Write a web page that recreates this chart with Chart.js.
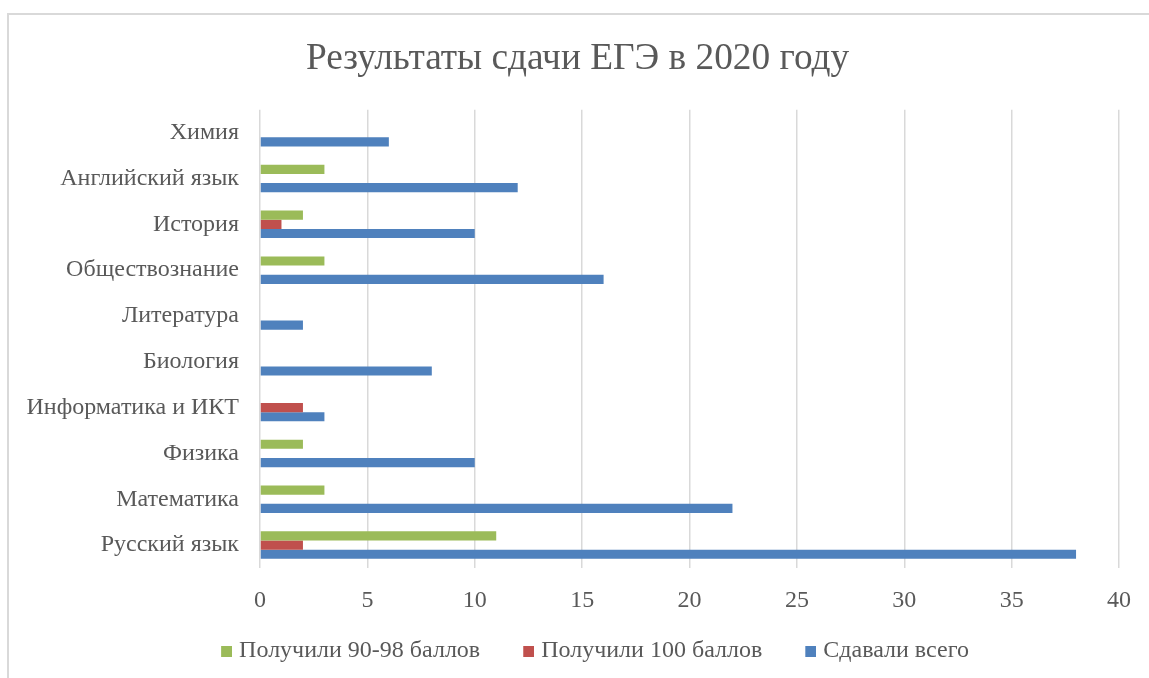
<!DOCTYPE html>
<html lang="ru">
<head>
<meta charset="utf-8">
<title>Результаты сдачи ЕГЭ в 2020 году</title>
<script src="https://cdn.jsdelivr.net/npm/chart.js@4/dist/chart.umd.min.js"></script>
<style>
  html, body { margin: 0; padding: 0; background: #fff; overflow: hidden; }
  .frame {
    position: absolute; left: 7px; top: 13px; width: 1200px; height: 700px;
    border-top: 2px solid #d9d9d9; border-left: 2px solid #d9d9d9;
  }
  #chart { position: absolute; left: 0; top: 0; }
</style>
</head>
<body>
<div class="frame"></div>
<canvas id="chart" width="1149" height="678"></canvas>
<script>
  'use strict';

  /* Data (top to bottom as on the chart) */
  const categories = ['Химия', 'Английский язык', 'История', 'Обществознание', 'Литература',
    'Биология', 'Информатика и ИКТ', 'Физика', 'Математика', 'Русский язык'];
  const got90to98 = [0, 3, 2, 3, 0, 0, 0, 2, 3, 11];
  const got100 = [0, 0, 1, 0, 0, 0, 2, 0, 0, 2];
  const totalTaken = [6, 12, 10, 16, 2, 8, 3, 10, 22, 38];
  const xTicks = [0, 5, 10, 15, 20, 25, 30, 35, 40];

  const colors = ['#9bbb59', '#c0504d', '#4f81bd'];
  const textColor = '#595959';
  const serif = '"Liberation Serif", "Times New Roman", serif';

  /* legend marker: small square at the right of a wider blank image,
     so items get more room between them and the square sits near its text */
  function legendMark(color) {
    const c = document.createElement('canvas');
    c.width = 51;
    c.height = 11;
    const g = c.getContext('2d');
    g.fillStyle = color;
    g.fillRect(40, 0, 11, 11);
    return c;
  }
  const marks = colors.map(legendMark);

  const ctx = document.getElementById('chart').getContext('2d');

  // eslint-disable-next-line no-undef
  const chart = new Chart(ctx, {
    type: 'bar',
    data: {
      labels: categories,
      datasets: [{
          label: 'Получили 90-98 баллов',
          data: got90to98,
          backgroundColor: colors[0],
        },
        {
          label: 'Получили 100 баллов',
          data: got100,
          backgroundColor: colors[1],
        },
        {
          label: 'Сдавали всего',
          data: totalTaken,
          backgroundColor: colors[2],
        }
      ]
    },
    options: {
      responsive: false,
      animation: false,
      indexAxis: 'y',
      categoryPercentage: 0.6,
      barPercentage: 1,
      layout: {
        padding: { left: 10, right: 4, top: 0, bottom: 5 }
      },
      scales: {
        x: {
          min: 0,
          max: 40,
          afterBuildTicks: function (scale) {
            scale.ticks = xTicks.map(function (v) { return { value: v }; });
          },
          afterFit: function (scale) {
            scale.height = 63;
            scale.paddingRight = 30;
          },
          grid: { color: '#d9d9d9', lineWidth: 1.5, drawTicks: false },
          border: { display: false },
          ticks: {
            padding: 18,
            color: textColor,
            font: { family: serif, size: 24 }
          }
        },
        y: {
          afterFit: function (scale) {
            scale.width = 250;
          },
          grid: { display: false, drawTicks: false },
          border: { display: false },
          ticks: {
            padding: 21,
            color: textColor,
            font: { family: serif, size: 24 }
          }
        }
      },
      plugins: {
        title: {
          display: true,
          text: 'Результаты сдачи ЕГЭ в 2020 году',
          color: textColor,
          font: { family: serif, size: 37.33, weight: 'normal' },
          padding: { top: 37, bottom: 28 }
        },
        legend: {
          position: 'bottom',
          labels: {
            usePointStyle: true,
            pointStyleWidth: 41,
            boxHeight: 11,
            padding: 8,
            color: textColor,
            font: { family: serif, size: 24 },
            generateLabels: function (c) {
              // eslint-disable-next-line no-undef
              const items = Chart.defaults.plugins.legend.labels.generateLabels(c);
              items.forEach(function (item) {
                item.pointStyle = marks[item.datasetIndex];
              });
              return items;
            }
          }
        },
        tooltip: { enabled: false }
      }
    }
  });
</script>
</body>
</html>
